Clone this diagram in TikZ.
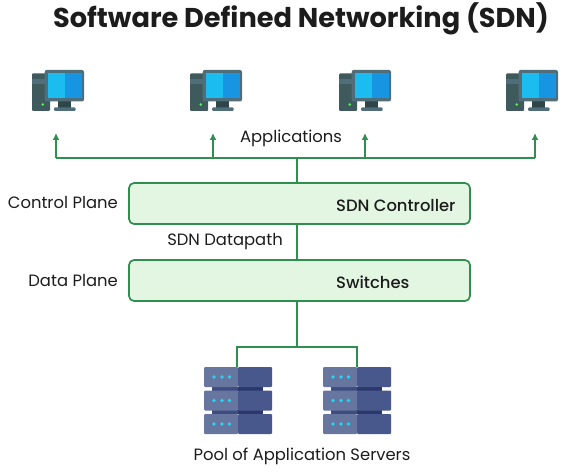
\documentclass[tikz,border=0pt]{standalone}
\usepackage{fontspec}
\setmainfont{Poppins}
\newfontfamily\medfont{Poppins Medium}
\usetikzlibrary{arrows.meta,positioning}
\definecolor{wire}{HTML}{2F8F4E}
\definecolor{pale}{HTML}{E2F6E2}
\definecolor{ink}{HTML}{1C1C1C}
\definecolor{tower}{HTML}{3E5A5C}
\definecolor{towerdark}{HTML}{2E4648}
\definecolor{bezel}{HTML}{4F6E7A}
\definecolor{screenl}{HTML}{1BBCF0}
\definecolor{screenr}{HTML}{1795E3}
\definecolor{slabl}{HTML}{67769F}
\definecolor{slabr}{HTML}{49588C}
\definecolor{linkl}{HTML}{3E4C82}
\definecolor{linkr}{HTML}{2B386B}
\definecolor{led}{HTML}{1FD8F5}
\tikzset{
  pcicon/.pic={
    \fill[tower,rounded corners=1pt] (0,3.5) rectangle (18,41);
    \fill[bezel] (0,9) rectangle (13,14);
    \fill[green!70!white] (10.7,34.5) circle (1.4);
    \fill[towerdark] (26,31) rectangle (38.7,38);
    \fill[bezel,rounded corners=1pt] (22,37.5) rectangle (43.7,41);
    \fill[bezel,rounded corners=2pt] (12.7,0) rectangle (52,31.5);
    \fill[screenl] (15.7,3.3) rectangle (33,28.3);
    \fill[screenr] (33,3.3) rectangle (50,28.3);
  },
  srvicon/.pic={
    \foreach \top in {19.5,43}{
      \fill[linkl] (8,\top) rectangle (34,\top+4);
      \fill[linkr] (34,\top) rectangle (59,\top+4);
    }
    \foreach \top in {0,23.5,47}{
      \fill[slabl,rounded corners=1pt] (0,\top) rectangle (34,\top+20);
      \fill[slabr,rounded corners=1pt] (34,\top) rectangle (68,\top+20);
      \foreach \dx in {10,18,25.5}
        \fill[led] (\dx,\top+10) circle (1.9);
    }
  }
}
\begin{document}
\begin{tikzpicture}[x=1pt,y=-1pt, every node/.style={font=\fontsize{16.4}{19}\selectfont,text=ink,inner sep=0pt}, plane/.style={draw=wire, line width=1.7pt, rounded corners=5pt, fill=pale, minimum width=341pt, minimum height=41pt}, wirepath/.style={wire, line width=1.9pt}, arr/.style={wirepath,-{Latex[length=7pt,width=7pt]}}, strong/.style={font=\fontsize{16.4}{19}\selectfont\medfont}]
\useasboundingbox (0,0) rectangle (586,473);
\node[font=\fontsize{27.2}{32}\selectfont\bfseries] (title) at (301,19) {Software Defined Networking (SDN)};
% computers
\foreach \name/\ix/\tx in {pcone/32/56,pctwo/190/213,pcthree/339/365,pcfour/506/535}{
  \pic at (\ix,70) {pcicon};
  \coordinate (\name) at (\tx,133);
  \coordinate (bus\name) at (\tx,158);
}
\node (apps) at (291,138) {Applications};
\node[plane] (ctrl) at (299.5,203.5) {};
\node[plane] (sw) at (299.5,280.5) {};
\node[strong,anchor=west] (ctrllabel) at (336,206) {SDN Controller};
\node[strong,anchor=west] (swlabel) at (336,282) {Switches};
\node[anchor=east] (ctrlplane) at (118,203) {Control Plane};
\node[anchor=east] (dataplane) at (118,281) {Data Plane};
\node (datapath) at (225,242) {SDN Datapath};
\coordinate (busmid) at (297,158);
\coordinate (ctrltop) at (297,183);
\coordinate (ctrlbot) at (297,224);
\coordinate (swtop) at (297,260);
\coordinate (swbot) at (297,301);
\coordinate (fork) at (297,347);
\coordinate (srvone) at (237,367);
\coordinate (srvtwo) at (357,367);
\pic at (204,367) {srvicon};
\pic at (323,367) {srvicon};
\node (pool) at (302,456) {Pool of Application Servers};
\draw[wirepath] (buspcone)--(buspcfour);
\draw[arr] (buspcone)--(pcone);
\draw[arr] (buspctwo)--(pctwo);
\draw[arr] (buspcthree)--(pcthree);
\draw[arr] (buspcfour)--(pcfour);
\draw[wirepath] (ctrltop)--(busmid);
\draw[wirepath] (ctrlbot)--(swtop);
\draw[wirepath] (swbot)--(fork);
\draw[wirepath] (srvone)|-(fork);
\draw[wirepath] (srvtwo)|-(fork);
\end{tikzpicture}
\end{document}
